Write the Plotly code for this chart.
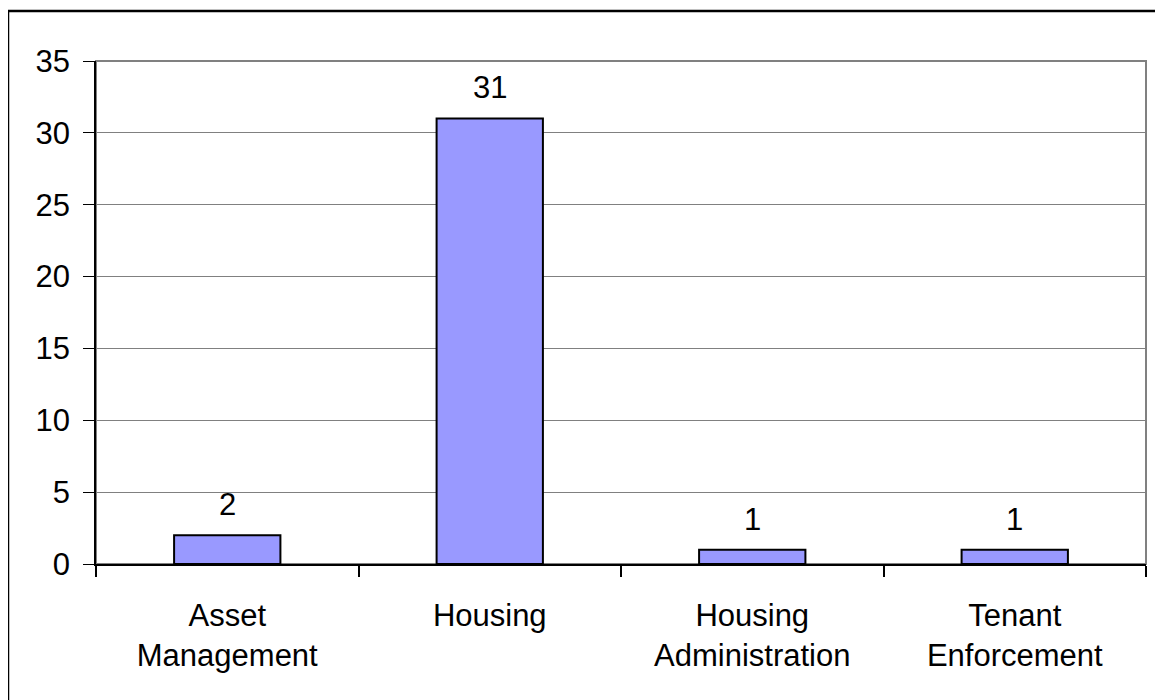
import plotly.graph_objects as go

# data
categories = ["Asset<br>Management", "Housing", "Housing<br>Administration", "Tenant<br>Enforcement"]
counts = [2, 31, 1, 1]
y_ticks = [0, 5, 10, 15, 20, 25, 30, 35]

W, H = 1163, 700
# page body has an 8px margin, so the figure is laid out 8px up/left
LEFT, RIGHT, TOP, BOTTOM = 88, 25, 53, 144
FONT = dict(family="Liberation Sans, Arial, sans-serif", size=31, color="#000")

fig = go.Figure()
fig.add_bar(
    x=categories,
    y=counts,
    width=0.405,
    marker_color="#9999FF",
    marker_line={"color": "#000", "width": 2},
    showlegend=False,
    hoverinfo="skip",
)

# value labels above the bars
for cat, val in zip(categories, counts):
    fig.add_annotation(
        x=cat, y=val, text=str(val), showarrow=False,
        yanchor="bottom", yshift=11, font=FONT,
    )

plot_w = W - LEFT - RIGHT
plot_h = H - TOP - BOTTOM

# plot area frame (grey top/right)
fig.add_shape(
    type="rect", xref="paper", yref="paper", x0=0, x1=1, y0=0, y1=1,
    line={"color": "#808080", "width": 2}, layer="below",
)
# outer chart border, only left/top edges fall inside the picture
fig.add_shape(
    type="rect", xref="paper", yref="paper",
    x0=(0 - LEFT) / plot_w, x1=(W + 20 - LEFT) / plot_w,
    y0=-(BOTTOM + 20) / plot_h, y1=1 + (TOP - 3) / plot_h,
    line={"color": "#000", "width": 2.5},
)

fig.update_xaxes(
    showline=True, linecolor="#000", linewidth=1.5,
    ticks="outside", ticklen=11, tickcolor="#000", tickwidth=1.5,
    tickson="boundaries", showgrid=False,
    tickfont=FONT, ticklabelstandoff=23,
)
fig.update_yaxes(
    range=[0, 35], tickvals=y_ticks,
    showline=True, linecolor="#000", linewidth=1.5,
    ticks="outside", ticklen=11, tickcolor="#000", tickwidth=1,
    showgrid=True, gridcolor="#808080", gridwidth=1,
    zeroline=False, tickfont=FONT, ticklabelstandoff=7,
)

fig.update_layout(
    width=W, height=H,
    margin=dict(l=LEFT, r=RIGHT, t=TOP, b=BOTTOM, pad=0),
    paper_bgcolor="#fff", plot_bgcolor="#fff",
    bargap=0.595, font=FONT,
)

fig.write_html("out.html")
